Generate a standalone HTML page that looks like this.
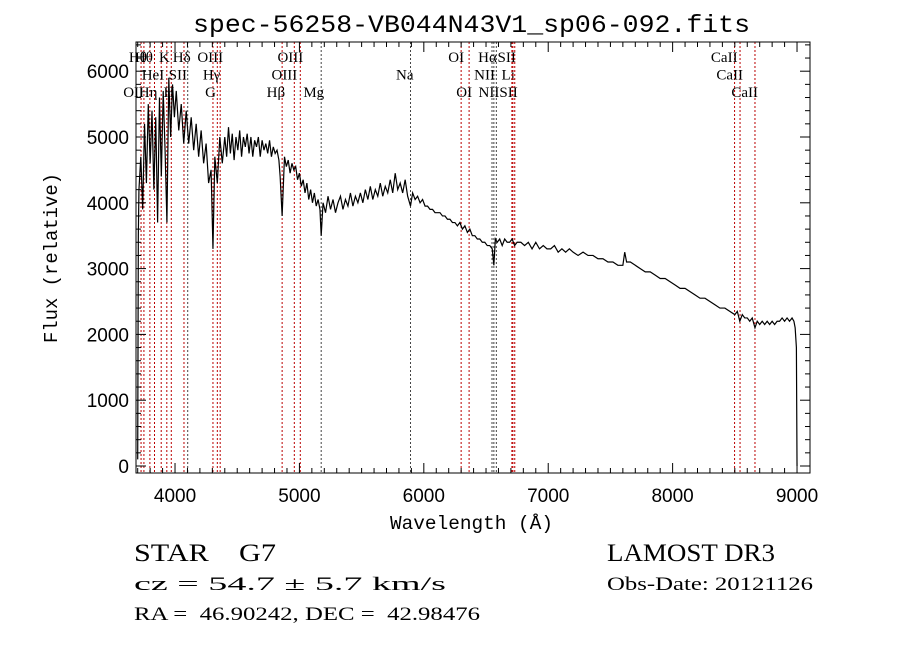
<!DOCTYPE html>
<html><head><meta charset="utf-8"><style>
body{margin:0;background:#fff;width:900px;height:649px;overflow:hidden}
svg{display:block}
.t{font-family:"Liberation Serif",serif;fill:#000}
.m{font-family:"Liberation Mono",monospace;fill:#000}
.s{font-family:"Liberation Sans",sans-serif;fill:#000}
</style></head><body>
<svg id="c" width="900" height="649" xmlns="http://www.w3.org/2000/svg">
<text class="m" x="193" y="32" font-size="25" textLength="557" lengthAdjust="spacingAndGlyphs">spec-56258-VB044N43V1_sp06-092.fits</text>
<text class="m" x="390" y="529" font-size="19" textLength="163" lengthAdjust="spacingAndGlyphs">Wavelength (Å)</text>
<text class="m" x="0" y="0" font-size="19" textLength="170" lengthAdjust="spacingAndGlyphs" text-anchor="middle" transform="translate(57,258) rotate(-90)">Flux (relative)</text>
<text class="t" x="134" y="561" font-size="25" textLength="142" lengthAdjust="spacingAndGlyphs" xml:space="preserve">STAR    G7</text>
<text class="t" x="134" y="590" font-size="19" textLength="312" lengthAdjust="spacingAndGlyphs">cz = 54.7 ± 5.7 km/s</text>
<text class="t" x="134" y="620" font-size="19" textLength="346" lengthAdjust="spacingAndGlyphs" xml:space="preserve">RA =  46.90242, DEC =  42.98476</text>
<text class="t" x="607" y="561" font-size="25" textLength="168" lengthAdjust="spacingAndGlyphs">LAMOST DR3</text>
<text class="t" x="607" y="590" font-size="19" textLength="206" lengthAdjust="spacingAndGlyphs">Obs-Date: 20121126</text>
<g id="plot"></g>
</svg>
<script>
const wave=[
3700,3705,3710,3725,3740,3755,3770,3785,3800,3815,
3830,3845,3860,3875,3890,3905,3920,3935,3950,3965,
3980,3995,4010,4030,4050,4070,4090,4110,4130,4150,
4170,4190,4210,4230,4250,4270,4290,4305,4320,4340,
4360,4380,4400,
4415,4430,4445,4460,4475,4490,4505,4520,4535,4550,
4565,4580,4595,4610,4625,4640,4655,4670,4685,4700,
4715,4730,4745,4760,4775,4790,4805,4820,4835,4845,
4861,4880,4895,4910,4925,4940,4955,4970,4985,5000,
5015,5030,5045,5060,5075,5090,5105,5120,5135,5150,
5165,5175,5190,5210,5230,5250,5270,5290,5310,5330,
5350,5370,5390,5410,5430,5450,5470,5490,5510,5530,
5550,5570,5590,5610,5630,5650,5670,5690,5710,5730,
5750,5770,5790,5810,5830,5850,5870,5893,5910,5930,
5950,5970,5990,6010,6030,6050,6070,6090,6110,6130,
6150,6170,6190,6210,6230,6250,6270,6290,6310,6330,
6350,6370,6390,6410,6430,6450,6470,6490,6510,6530,
6550,6563,6575,6590,6610,6630,6650,6670,6690,6710,
6730,6750,6780,6810,6840,6870,6900,6930,6960,6990,
7020,7050,7080,7110,7140,7170,7200,7240,7280,7320,
7360,7400,7440,7480,7520,7560,7600,7615,7630,7660,
7700,7740,7780,7820,7860,7900,7940,7980,8020,8060,
8100,8140,8180,8220,8260,8300,8340,8380,8420,8460,
8500,8520,8540,8560,8580,8600,8620,8640,8662,8680,
8700,8720,8740,8760,8780,8800,8820,8840,8860,8880,
8900,8920,8940,8960,8975,8985,8995,9000];
const flux=[
100,3500,4200,4700,3900,5200,4300,5500,4600,5400,
4200,5300,3700,5600,4400,5700,4800,3700,5900,5000,
5800,5300,5700,5100,5500,4900,5400,4900,5300,4800,
5200,4700,5100,4600,4900,4300,4500,3300,4700,4300,
5000,4600,5000,
4700,5150,4750,5050,4650,5000,4800,5100,4700,5000,
4850,5050,4750,5000,4700,4950,4850,5000,4700,4950,
4800,4900,4750,4950,4700,4850,4750,4800,4650,4400,
3800,4700,4550,4650,4450,4600,4500,4550,4350,4450,
4250,4350,4150,4300,4050,4200,4000,4150,3950,4050,
3900,3500,4000,3850,4100,3900,4050,3850,4000,4100,
3900,4050,3950,4150,3950,4100,4000,4150,4000,4200,
4050,4250,4050,4200,4100,4300,4100,4250,4150,4350,
4150,4450,4200,4300,4150,4350,4100,3950,4150,4050,
4100,4000,4050,3950,3950,3900,3900,3850,3850,3850,
3800,3800,3750,3750,3700,3700,3650,3700,3600,3650,
3550,3600,3500,3500,3450,3450,3400,3400,3350,3350,
3300,3050,3450,3400,3450,3350,3450,3400,3400,3450,
3350,3400,3400,3350,3400,3300,3400,3300,3350,3300,
3300,3350,3250,3300,3250,3300,3250,3200,3250,3200,
3200,3150,3150,3100,3100,3050,3050,3250,3100,3100,
3050,3000,2950,2950,2900,2850,2850,2800,2750,2700,
2700,2650,2600,2550,2550,2500,2450,2400,2400,2350,
2300,2350,2200,2300,2250,2250,2200,2250,2100,2200,
2150,2200,2150,2200,2150,2200,2150,2200,2200,2250,
2200,2250,2200,2250,2200,2100,1800,0];
const xTicks=[4000,5000,6000,7000,8000,9000];
const yTicks=[0,1000,2000,3000,4000,5000,6000];
const lineWaves=[3727,3750,3798,3835,3889,3934,3970,4072,4102,4305,4340,4363,4861,4959,5007,5175,5893,6300,6364,6548,6563,6583,6708,6716,6731,8498,8542,8662];
const lineLabels=["OII","Hθ","Hθ","Hη","HeI","K","H","SII","Hδ","G","Hγ","OIII","Hβ","OIII","OIII","Mg","Na","OI","OI","NII","Hα","NII","Li","SII","SII","CaII","CaII","CaII"];
const lineRows=[2,0,0,2,1,0,2,1,0,2,1,0,2,1,0,2,1,0,2,1,0,2,1,0,2,0,1,2];
const X0=137.7,XS=0.1244,Y0=466,YS=0.0658;
const L=136,R=810,T=42,B=473;
const x=w=>X0+(w-3700)*XS, y=v=>Y0-v*YS;
const NS="http://www.w3.org/2000/svg", g=document.getElementById('plot');
function mk(t,a){const e=document.createElementNS(NS,t);for(const k in a)e.setAttribute(k,a[k]);g.appendChild(e);return e;}
lineWaves.forEach((w,i)=>{
 const red=!["Hδ","Na","Mg","Hα","NII"].includes(lineLabels[i]);
 const l=mk('line',{x1:x(w),x2:x(w),y1:T,y2:B,stroke:red?'#b00':'#444','stroke-width':1,'stroke-dasharray':'2,2'});
 
 
 const tx=mk('text',{x:x(w)+3,y:62+lineRows[i]*17.5,'font-size':15,'text-anchor':'end',class:'t'});
 tx.textContent=lineLabels[i];
 
 
});
const n=Math.min(wave.length,flux.length);
const p=mk('polyline',{points:wave.slice(0,n).map((w,i)=>x(w)+','+y(flux[i])).join(' '),fill:'none',stroke:'#000','stroke-width':1.2});


const f=mk('rect',{x:L,y:T,width:R-L,height:B-T,fill:'none',stroke:'#000','stroke-width':1});


for(let w=3700;w<=9000;w+=100){const maj=w%1000==0,len=maj?10:5;
 mk('line',{x1:x(w),x2:x(w),y1:B,y2:B-len,stroke:'#000'});mk('line',{x1:x(w),x2:x(w),y1:T,y2:T+len,stroke:'#000'});}
xTicks.forEach(v=>{const t=mk('text',{x:x(v),y:502,'font-size':19,'text-anchor':'middle',class:'s'});t.textContent=v;
 
 });
for(let v=0;v<=6400;v+=200){if(y(v)<T)break;const maj=v%1000==0,len=maj?10:5;
 mk('line',{x1:L,x2:L+len,y1:y(v),y2:y(v),stroke:'#000'});mk('line',{x1:R,x2:R-len,y1:y(v),y2:y(v),stroke:'#000'});}
yTicks.forEach(v=>{const t=mk('text',{x:129,y:y(v)+7,'font-size':19,'text-anchor':'end',class:'s'});t.textContent=v;
 
 });
</script>
</body></html>
